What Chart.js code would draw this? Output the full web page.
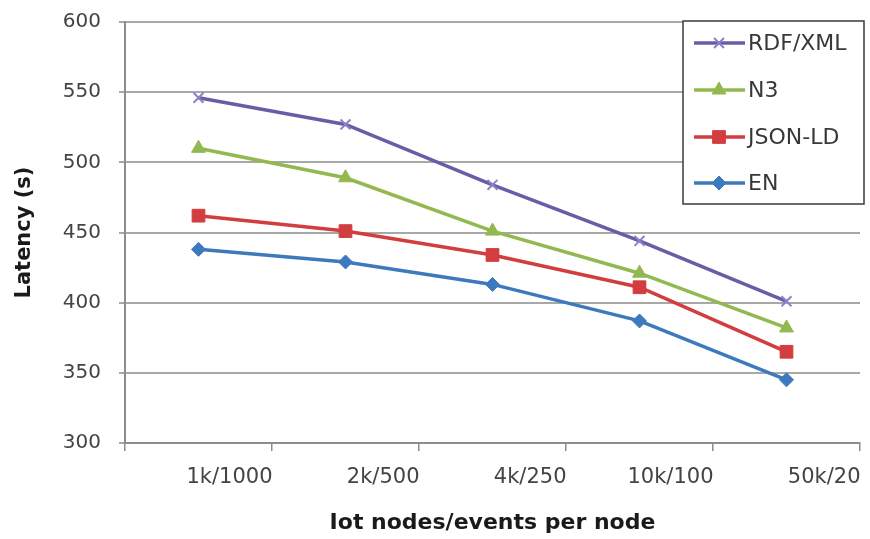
<!DOCTYPE html>
<html>
<head>
<meta charset="utf-8">
<script src="https://cdn.jsdelivr.net/npm/chart.js@4/dist/chart.umd.min.js"></script>
<style>
  html, body { margin: 0; padding: 0; background: #ffffff; }
  #wrap { width: 870px; height: 539px; }
</style>
</head>
<body>
<div id="wrap"><canvas id="chart" width="870" height="539"></canvas></div>
<script>
// Workload configurations (IoT nodes / events per node)
const categories = ['1k/1000', '2k/500', '4k/250', '10k/100', '50k/20'];

// Latency in seconds for each serialization format
const rdfXml = [546, 527, 484, 444, 401];
const n3     = [510, 489, 451, 421, 382];
const jsonLd = [462, 451, 434, 411, 365];
const en     = [438, 429, 413, 387, 345];

const yTicks = [300, 350, 400, 450, 500, 550, 600];

const FONT = "'DejaVu Sans', sans-serif";

function series(label, data, color, markerColor, style, radius) {
  return {
    label: label,
    data: data,
    borderColor: color,
    backgroundColor: markerColor,
    pointBackgroundColor: markerColor,
    pointBorderColor: markerColor,
    pointStyle: style,
    pointRadius: radius,
    pointHoverRadius: radius,
    pointBorderWidth: style === 'crossRot' ? 2 : 1,
    borderWidth: 3.5,
    tension: 0,
    fill: false
  };
}

// Boxed legend drawn in the upper-right corner of the plot
const boxedLegend = {
  id: 'boxedLegend',
  afterDraw(chart) {
    const ctx = chart.ctx;
    const x0 = 683, y0 = 21, x1 = 864, y1 = 204;
    ctx.save();
    ctx.fillStyle = '#ffffff';
    ctx.fillRect(x0, y0, x1 - x0, y1 - y0);
    ctx.strokeStyle = '#3a3a3a';
    ctx.lineWidth = 1.5;
    ctx.strokeRect(x0, y0, x1 - x0, y1 - y0);
    const rows = [43, 90, 137, 183];
    chart.data.datasets.forEach((ds, i) => {
      const y = rows[i];
      ctx.strokeStyle = ds.borderColor;
      ctx.lineWidth = 3.5;
      ctx.beginPath();
      ctx.moveTo(694, y);
      ctx.lineTo(745, y);
      ctx.stroke();
      ctx.fillStyle = ds.pointBackgroundColor;
      ctx.strokeStyle = ds.pointBorderColor;
      ctx.lineWidth = ds.pointBorderWidth;
      Chart.helpers.drawPoint(ctx, { pointStyle: ds.pointStyle, radius: ds.pointRadius, rotation: 0, borderWidth: ds.pointBorderWidth }, 719, y);
      ctx.fillStyle = '#383838';
      ctx.font = '22px ' + FONT;
      ctx.textAlign = 'left';
      ctx.textBaseline = 'middle';
      ctx.fillText(ds.label, 748, y + 1);
    });
    ctx.restore();
  }
};

new Chart(document.getElementById('chart'), {
  type: 'line',
  data: {
    labels: categories,
    datasets: [
      series('RDF/XML', rdfXml, '#6c5ca6', '#8d80c8', 'crossRot', 7),
      series('N3', n3, '#93b850', '#93b850', 'triangle', 8),
      series('JSON-LD', jsonLd, '#d23d3f', '#d23d3f', 'rect', 9),
      series('EN', en, '#3d79bd', '#3d79bd', 'rectRot', 7)
    ]
  },
  options: {
    responsive: false,
    animation: false,
    layout: { padding: { left: 8, right: 4, top: 22, bottom: 0 } },
    plugins: {
      legend: { display: false },
      tooltip: { enabled: false }
    },
    scales: {
      x: {
        offset: true,
        grid: {
          offset: true,
          drawOnChartArea: false,
          drawTicks: true,
          tickLength: 8,
          color: '#8c8c8c',
          lineWidth: 1.5
        },
        border: { display: true, color: '#8c8c8c', width: 2 },
        ticks: {
          color: '#444444',
          font: { family: FONT, size: 21 },
          padding: 14,
          align: 'end',
          labelOffset: 74,
          maxRotation: 0,
          autoSkip: false
        },
        title: {
          display: true,
          text: 'Iot nodes/events per node',
          color: '#1a1a1a',
          font: { family: FONT, size: 22, weight: 'bold' },
          padding: { top: 4, bottom: 3 }
        },
        afterFit(scale) { scale.height = 96; }
      },
      y: {
        min: 300,
        max: 600,
        afterBuildTicks(scale) { scale.ticks = yTicks.map(v => ({ value: v })); },
        grid: {
          color: '#a8a8a8',
          lineWidth: 2,
          tickLength: 6,
          drawTicks: true
        },
        border: { display: true, color: '#8c8c8c', width: 2 },
        ticks: {
          color: '#444444',
          font: { family: FONT, size: 20 },
          padding: 18
        },
        title: {
          display: true,
          text: 'Latency (s)',
          color: '#1a1a1a',
          font: { family: FONT, size: 21, weight: 'bold' },
          padding: { top: 4, bottom: 4 }
        },
        afterFit(scale) {
          scale.width = 117;
          // only half a label height is needed above the top tick
          scale.paddingTop = 12;
        }
      }
    }
  },
  plugins: [boxedLegend]
});
</script>
</body>
</html>
